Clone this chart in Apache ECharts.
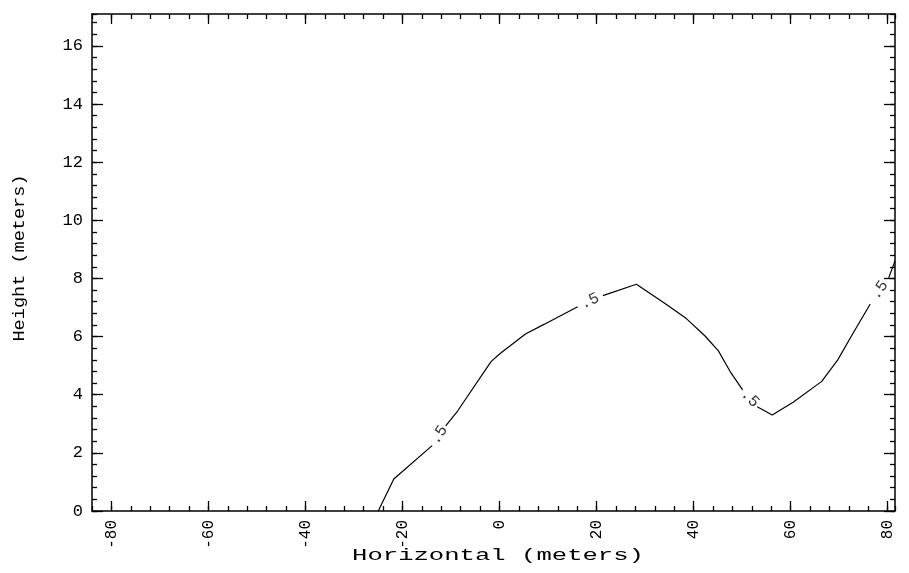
<!DOCTYPE html>
<html>
<head>
<meta charset="utf-8">
<script src="https://cdn.jsdelivr.net/npm/echarts@6/dist/echarts.min.js"></script>
<style>html,body{margin:0;padding:0;background:#fff;}#c{width:909px;height:573px;}</style>
</head>
<body>
<div id="c"></div>
<script>
// ---- data ----
var xMajorTicks = [-80, -60, -40, -20, 0, 20, 40, 60, 80];
var yMajorTicks = [0, 2, 4, 6, 8, 10, 12, 14, 16];
// contour ".5" line, split where the labels interrupt it
var segA = [[-25.0, 0], [-21.8, 1.10], [-13.9, 2.25]];
var segB = [[-11.1, 2.93], [-8.65, 3.44], [-1.76, 5.14], [0.12, 5.42], [5.34, 6.09], [9.15, 6.42], [16.1, 7.03]];
var segC = [[21.3, 7.41], [28.2, 7.80], [34.1, 7.14], [38.5, 6.62], [42.3, 6.03], [45.1, 5.51], [47.7, 4.75], [50.1, 4.17]];
var segD = [[53.1, 3.59], [56.2, 3.30], [60.5, 3.74], [66.4, 4.46], [69.7, 5.20], [73.0, 6.16], [76.4, 7.12]];
var segE = [[80.2, 8.02], [81.5, 8.6]];
var contourLabelText = '.5';
var labelPos = [[-12.5, 2.62], [18.6, 7.22], [51.6, 3.88], [78.3, 7.6]];
var labelAngle = [57, 25, -45, 56];

var X_MIN = -84, X_MAX = 81.5, Y_MIN = 0, Y_MAX = 17.1;
var FONT = 'Liberation Mono';

var chart = echarts.init(document.getElementById('c'), null, {renderer: 'canvas'});

function xAxisDef(pos, major, showLabel) {
  var a = {
    type: 'value', position: pos, min: X_MIN, max: X_MAX,
    axisLine: {show: major, onZero: false, lineStyle: {color: '#000', width: 1.5}},
    splitLine: {show: false},
    axisTick: {show: true, inside: true, length: major ? 10 : 5, lineStyle: {color: '#000', width: 1.3}},
    axisLabel: {show: false}
  };
  if (major) {
    a.axisTick.customValues = xMajorTicks;
    a.axisLabel = {show: showLabel, customValues: xMajorTicks, rotate: 90, margin: 9,
      fontFamily: FONT, fontSize: 16, color: '#000',
      formatter: function (v) { return String(v); }};
  } else {
    a.interval = 4;
  }
  return a;
}
function yAxisDef(pos, major, showLabel) {
  return {
    type: 'value', position: pos, min: Y_MIN, max: Y_MAX,
    interval: major ? 2 : 0.4,
    axisLine: {show: major, onZero: false, lineStyle: {color: '#000', width: 1.5}},
    splitLine: {show: false},
    axisTick: {show: true, inside: true, length: major ? 11 : 5, lineStyle: {color: '#000', width: 1.3},
      customValues: major ? yMajorTicks : undefined},
    axisLabel: major && showLabel ? {show: true, customValues: yMajorTicks, margin: 9,
      fontFamily: FONT, fontSize: 17, color: '#000'} : {show: false}
  };
}

var lineStyle = {color: '#000', width: 1.2};
var segs = [segA, segB, segC, segD, segE];
var series = segs.map(function (s) {
  return {type: 'line', data: s, showSymbol: false, symbol: 'none', lineStyle: lineStyle,
    xAxisIndex: 0, yAxisIndex: 0, animation: false, silent: true};
});
series.push({
  type: 'scatter', xAxisIndex: 0, yAxisIndex: 0, symbolSize: 0, animation: false, silent: true,
  data: labelPos.map(function (p, i) {
    return {value: p, label: {rotate: labelAngle[i]}};
  }),
  label: {show: true, position: 'inside', formatter: contourLabelText,
    fontFamily: FONT, fontSize: 16, color: '#000'}
});

chart.setOption({
  animation: false,
  backgroundColor: '#fff',
  grid: {left: 92, right: 14, top: 14, bottom: 62, containLabel: false},
  xAxis: [
    xAxisDef('bottom', true, true),
    xAxisDef('bottom', false, false),
    xAxisDef('top', true, false),
    xAxisDef('top', false, false)
  ],
  yAxis: [
    yAxisDef('left', true, true),
    yAxisDef('left', false, false),
    yAxisDef('right', true, false),
    yAxisDef('right', false, false)
  ],
  graphic: [
    {type: 'text', x: 498, y: 556, scaleX: 1.6, scaleY: 1,
      style: {text: 'Horizontal (meters)', font: '16px "' + FONT + '"', fill: '#000',
        textAlign: 'center', textVerticalAlign: 'middle'}},
    {type: 'text', x: 20, y: 258, rotation: Math.PI / 2, scaleX: 1.16, scaleY: 1,
      style: {text: 'Height (meters)', font: '16px "' + FONT + '"', fill: '#000',
        textAlign: 'center', textVerticalAlign: 'middle'}}
  ],
  series: series
});
</script>
</body>
</html>
